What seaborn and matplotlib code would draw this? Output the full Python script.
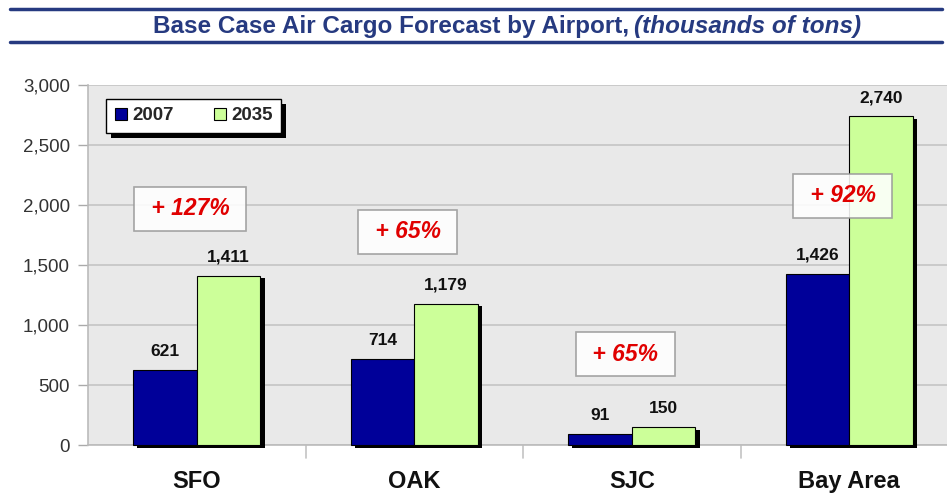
import matplotlib
matplotlib.use("Agg")
import matplotlib.pyplot as plt
import matplotlib.patheffects as pe
from matplotlib.lines import Line2D
import seaborn as sns
import pandas as pd

# ---- data ----
airports = ["SFO", "OAK", "SJC", "Bay Area"]
years = ["2007", "2035"]
cargo_2007 = [621, 714, 91, 1426]
cargo_2035 = [1411, 1179, 150, 2740]
growth_labels = ["+ 127%", "+ 65%", "+ 65%", "+ 92%"]
yticks = [0, 500, 1000, 1500, 2000, 2500, 3000]

# layout-only (not data): vertical placement of the growth boxes
growth_box_y = [1967, 1775, 758, 2075]

df = pd.DataFrame({
    "airport": airports * 2,
    "year": [years[0]] * 4 + [years[1]] * 4,
    "value": cargo_2007 + cargo_2035,
})

sns.set_theme(style="white")
plt.rcParams["font.family"] = ["Liberation Sans", "DejaVu Sans"]

W, H = 947, 494
fig = plt.figure(figsize=(W / 100, H / 100), dpi=100)
fig.patch.set_facecolor("white")
left, right, top, bottom = 88, 958, 85, 445
ax = fig.add_axes([left / W, (H - bottom) / H, (right - left) / W, (bottom - top) / H])
ax.set_facecolor("#E9E9E9")

palette = {"2007": "#000099", "2035": "#CCFF99"}
sns.barplot(data=df, x="airport", y="value", hue="year", palette=palette,
            width=0.585, gap=0, edgecolor="black", linewidth=0.8,
            saturation=1, ax=ax, legend=False, zorder=3)

shadow = [pe.SimplePatchShadow(offset=(3, -2), shadow_rgbFace="black", alpha=1.0), pe.Normal()]
for p in ax.patches:
    p.set_path_effects(shadow)
    p.set_clip_on(False)

for cont in ax.containers:
    ax.bar_label(cont, labels=[f"{v:,.0f}" for v in cont.datavalues], padding=8,
                 fontsize=12.5, fontweight="bold", color="#111111")

ax.set_ylim(0, 3000)
ax.set_xlim(-0.5, 3.5)
ax.set_yticks(yticks)
ax.set_yticklabels([f"{v:,}" for v in yticks], fontsize=13.5, color="#333333")
ax.yaxis.grid(True, color="#C4C4C4", linewidth=1.2, zorder=0)
ax.set_axisbelow(True)
ax.tick_params(axis="y", length=7, color="#AAAAAA", width=1, pad=6, left=True)
ax.set_xticks(range(len(airports)))
ax.set_xticklabels(airports, fontsize=17, fontweight="bold", color="#111111")
ax.tick_params(axis="x", length=0, pad=18)
for b in [0.5, 1.5, 2.5]:
    ax.axvline(b, ymin=-0.035, ymax=0, color="#C4C4C4", linewidth=1.2, clip_on=False)
ax.set_xlabel("")
ax.set_ylabel("")
for s in ["top", "right"]:
    ax.spines[s].set_visible(False)
ax.spines["left"].set_color("#BBBBBB")
ax.spines["bottom"].set_color("#BBBBBB")
ax.spines["left"].set_linewidth(1.2)
ax.spines["bottom"].set_linewidth(1.2)

# growth boxes
for i, (lab, yy) in enumerate(zip(growth_labels, growth_box_y)):
    ax.text(i - 0.03, yy, " " + lab + " ", ha="center", va="center", fontsize=16.5,
            fontweight="bold", fontstyle="italic", color="#E00000", zorder=6,
            bbox=dict(boxstyle="square,pad=0.45", facecolor="white", alpha=0.88,
                      edgecolor="#999999", linewidth=1.2))

# legend
handles = [Line2D([0], [0], marker="s", linestyle="", markersize=8.5,
                  markerfacecolor=palette[y], markeredgecolor="black", markeredgewidth=0.8)
           for y in years]
leg = ax.legend(handles, years, loc="upper left", bbox_to_anchor=(0.0207, 0.962),
                ncol=2, frameon=True, fancybox=False, edgecolor="black", framealpha=1,
                facecolor="white",
                prop=dict(weight="bold", size=13.5), handlelength=0.7,
                handletextpad=0.25, columnspacing=2.1, borderpad=0.45, borderaxespad=0)
leg.get_frame().set_linewidth(1.0)
leg.get_frame().set_path_effects([pe.SimplePatchShadow(offset=(3.5, -3.5), shadow_rgbFace="black", alpha=1.0), pe.Normal()])
leg.set_zorder(7)

# title
navy = "#263A80"
fig.text(629 / W, 1 - 26 / H, "Base Case Air Cargo Forecast by Airport,", ha="right", va="center",
         fontsize=17.5, fontweight="bold", color=navy)
fig.text(634 / W, 1 - 26 / H, "(thousands of tons)", ha="left", va="center",
         fontsize=17.5, fontweight="bold", fontstyle="italic", color=navy)
fig.add_artist(Line2D([10 / W, 942 / W], [1 - 9 / H, 1 - 9 / H], color=navy, linewidth=2.5))
fig.add_artist(Line2D([10 / W, 942 / W], [1 - 42 / H, 1 - 42 / H], color=navy, linewidth=2.5))

fig.savefig("out.png", dpi=100)
